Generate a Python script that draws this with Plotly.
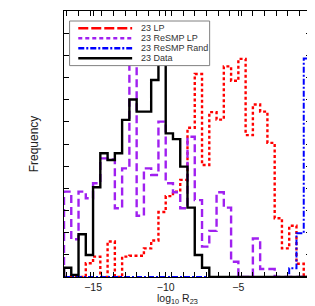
import numpy as np
import plotly.graph_objects as go

# ---- data (histogram counts, bins of width 0.5 from -17 to 0) ----
bin_start = -17.0
bin_width = 0.5
lp_counts = [0, 0, 0, 0.62, 0.92, 0, 1.60, 0, 0.92, 0.96, 0.96, 1.29, 1.65, 2.93,
             3.65, 3.85, 4.38, 6.73, 9.16, 5.05, 7.44, 7.10, 9.50, 8.85, 9.84, 6.40,
             7.78, 7.46, 6.05, 2.65, 1.29, 2.31, 0.60, 0]
resmp_lp_counts = [3.85, 1.70, 3.85, 3.55, 4.23, 5.35, 5.30, 3.10, 4.90, 10.3, 2.76,
                   4.90, 4.60, 7.01, 4.23, 3.82, 3.10, 6.33, 3.47, 1.37, 2.08, 3.82,
                   3.13, 0.69, 0, 0, 1.74, 0.36, 0.36, 0, 0, 0, 0, 0]
resmp_rand_counts = [0] * 31 + [0.39, 1.97, 9.86]
data_counts = [0.42, 0.09, 1.93, 0.99, 4.05, 5.58, 5.28, 5.58, 7.09, 8.01, 7.46, 7.46,
               8.89, 11.0, 6.48, 6.22, 4.98, 3.13, 0.99, 0.42, 0, 0, 0, 0, 0, 0, 0, 0,
               0, 0, 0, 0, 0, 0]
series_names = ["23 LP", "23 ReSMP LP", "23 ReSMP Rand", "23 Data"]
x_tickvals = [-15, -10, -5, 0]
x_title = "log<sub>10</sub> R<sub>2\u03033</sub>"
y_title = "Frequency"

# ---- styles ----
colors = ["#ff0000", "#a020f0", "#0000ff", "#000000"]
plot_dash = ["3px,2.5px", "8px,4px", "6px,2px,2px,2px", "solid"]
plot_width = [2.4, 2.4, 2.0, 2.4]
legend_dash = ["10px,3px", "4px,3px", "6px,2px,2px,2px", "solid"]

edges = bin_start + bin_width * np.arange(len(data_counts) + 1)

fig = go.Figure()
for counts, name, c, d, w in zip(
        [lp_counts, resmp_lp_counts, resmp_rand_counts, data_counts],
        series_names, colors, plot_dash, plot_width):
    xs = [edges[0]] + list(edges)
    ys = [0] + list(counts) + [0]
    fig.add_trace(go.Scatter(x=xs, y=ys, mode="lines", name=name,
                             line=dict(color=c, width=w, dash=d, shape="hv"),
                             showlegend=False, hoverinfo="skip"))

# ---- manual legend (compact, like the original) ----
box = dict(x0=0.0226, x1=0.5897, y0=0.7947, y1=0.9624)
fig.add_shape(type="rect", xref="paper", yref="paper", **box,
              line=dict(color="#808080", width=1), fillcolor="white", layer="above")
row_y = [0.935, 0.8974, 0.8598, 0.8222]
for name, c, d, yy in zip(series_names, colors, legend_dash, row_y):
    fig.add_shape(type="line", xref="paper", yref="paper", x0=0.0578, x1=0.2759,
                  y0=yy, y1=yy, line=dict(color=c, width=2.4, dash=d), layer="above")
    fig.add_annotation(xref="paper", yref="paper", x=0.3053, y=yy, text=name,
                       showarrow=False, xanchor="left", yanchor="middle",
                       font=dict(size=9, color="#333333"))

# x-axis title as annotation (so it can sit slightly left of centre, like the original)
fig.add_annotation(xref="paper", yref="paper", x=0.458, y=0, yshift=-13,
                   text=x_title, showarrow=False, xanchor="center", yanchor="top",
                   font=dict(size=10.5, color="#222222"))

fig.update_layout(
    width=315, height=306,
    margin=dict(l=56, r=12, t=3, b=37, autoexpand=False),
    paper_bgcolor="white", plot_bgcolor="white",
    font=dict(family="Liberation Sans, Arial, sans-serif", color="#222222"),
    showlegend=False,
)
fig.update_xaxes(
    range=[-17, 0], tickvals=x_tickvals, ticks="inside", ticklen=5, tickwidth=1,
    tickcolor="black", showline=True, linecolor="black", linewidth=1, mirror="ticks",
    showgrid=False, zeroline=False, tickfont=dict(size=10.5, color="#222222"),
    automargin=False,
    minor=dict(dtick=0.8, tick0=0, ticks="inside", ticklen=5, tickcolor="black",
               showgrid=False),
)
fig.update_yaxes(
    range=[0, 12], dtick=1, tick0=0, ticks="inside", ticklen=5, tickwidth=1,
    tickcolor="black", showline=True, linecolor="black", linewidth=1, mirror="ticks",
    showgrid=False, zeroline=False, showticklabels=False, automargin=False,
    title=dict(text=y_title, font=dict(size=12, color="#222222"), standoff=21),
)

fig.write_html("out.html")
